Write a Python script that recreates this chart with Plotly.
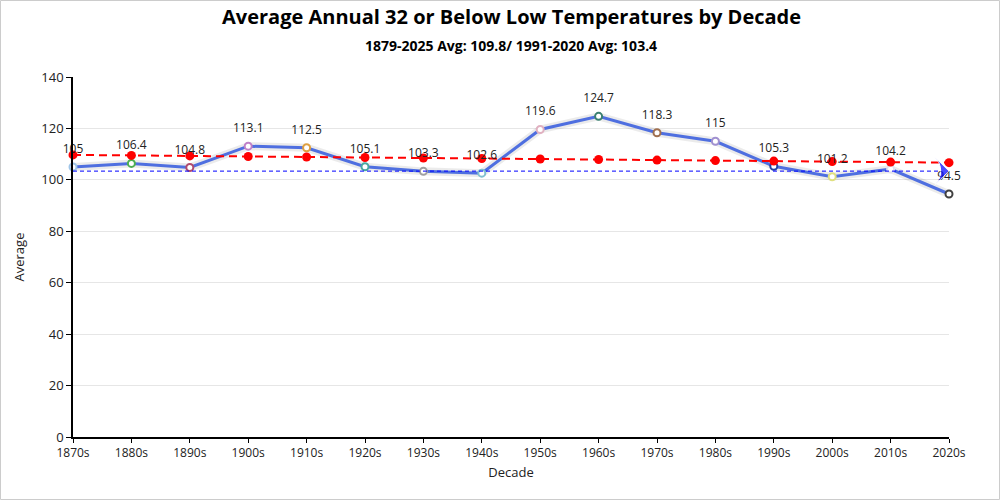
import plotly.graph_objects as go

decades = ["1870s", "1880s", "1890s", "1900s", "1910s", "1920s", "1930s", "1940s",
           "1950s", "1960s", "1970s", "1980s", "1990s", "2000s", "2010s", "2020s"]
averages = [105, 106.4, 104.8, 113.1, 112.5, 105.1, 103.3, 102.6,
            119.6, 124.7, 118.3, 115, 105.3, 101.2, 104.2, 94.5]
trend = [109.7, 109.5, 109.3, 109.1, 108.9, 108.7, 108.5, 108.3,
         108.1, 107.9, 107.7, 107.5, 107.3, 107.1, 106.9, 106.7]
normal_avg = 103.4
normal_x = ["1870s", "2020s"]
marker_colors = ["#9fc5e8", "#4caf50", "#b04a6d", "#c080c8", "#e0a040", "#4aa8a0",
                 "#a0a0a0", "#80c0d0", "#e0b0c0", "#3a8070", "#a07050", "#a090d0",
                 "#2040a0", "#e0e080", "#e0e0f0", "#404040"]

title = "Average Annual 32 or Below Low Temperatures by Decade"
subtitle = "1879-2025 Avg: 109.8/ 1991-2020 Avg: 103.4"

FONT = "Open Sans, Segoe UI, sans-serif"

fig = go.Figure()

# soft shadow under the main line
fig.add_trace(go.Scatter(
    x=decades, y=averages, mode="lines",
    line=dict(color="rgba(0,0,0,0.08)", width=8),
    hoverinfo="skip", showlegend=False,
))
fig.add_trace(go.Scatter(
    x=decades, y=averages, mode="lines+markers",
    line=dict(color="#4f6fe0", width=3),
    marker=dict(size=7, color="white", line=dict(color=marker_colors, width=2)),
    cliponaxis=False, showlegend=False,
))
fig.add_trace(go.Scatter(
    x=decades, y=trend, mode="lines+markers",
    line=dict(color="red", width=2, dash="8px,5px"),
    marker=dict(size=9, color="red"),
    cliponaxis=False, showlegend=False,
))
# value labels
fig.add_trace(go.Scatter(
    x=decades, y=averages, mode="markers+text",
    marker=dict(size=16, opacity=0),
    text=[str(v) for v in averages], textposition="top center",
    textfont=dict(size=12, color="#222", family=FONT),
    cliponaxis=False, hoverinfo="skip", showlegend=False,
))
fig.add_trace(go.Scatter(
    x=normal_x, y=[normal_avg, normal_avg], mode="lines+markers",
    line=dict(color="blue", width=1, dash="4px,3px"),
    marker=dict(size=[9, 20], symbol=["circle", "arrow-wide"], angleref="previous",
                color="blue"),
    cliponaxis=False, showlegend=False,
))

fig.update_layout(
    width=1000, height=500,
    margin=dict(l=73, r=51, t=77, b=63),
    plot_bgcolor="white", paper_bgcolor="white",
    font=dict(family=FONT, size=12, color="#222"),
    xaxis=dict(
        type="category", range=[0, 15],
        showline=True, linecolor="black", linewidth=1.5,
        ticks="outside", tickcolor="black", ticklen=4,
        showgrid=False,
        title=dict(text="Decade", font=dict(size=13), standoff=8),
        tickfont=dict(size=12),
    ),
    yaxis=dict(
        range=[0, 140], dtick=20,
        showline=True, linecolor="black", linewidth=1.5,
        ticks="outside", tickcolor="black", ticklen=5,
        showgrid=True, gridcolor="#e6e6e6", zeroline=False,
        title=dict(text="Average", font=dict(size=13), standoff=14),
        tickfont=dict(size=13),
    ),
    annotations=[
        dict(text="<b>" + title + "</b>", xref="paper", yref="paper",
             x=0.5, y=(437 - 17) / 360, xanchor="center", yanchor="middle",
             showarrow=False, font=dict(size=20, color="black", family=FONT)),
        dict(text="<b>" + subtitle + "</b>", xref="paper", yref="paper",
             x=0.5, y=(437 - 45) / 360, xanchor="center", yanchor="middle",
             showarrow=False, font=dict(size=14, color="black", family=FONT)),
    ],
    shapes=[
        dict(type="rect", xref="paper", yref="paper",
             x0=(0.5 - 73) / 876, x1=(999.5 - 73) / 876,
             y0=(437 - 499.5) / 360, y1=(437 - 0.5) / 360,
             line=dict(color="#cccccc", width=1), fillcolor="rgba(0,0,0,0)",
             layer="below"),
    ],
)

fig.write_html(
    "out.html",
    config={"displayModeBar": False},
    post_script="document.body.style.margin='0';document.body.style.overflow='hidden';",
)
